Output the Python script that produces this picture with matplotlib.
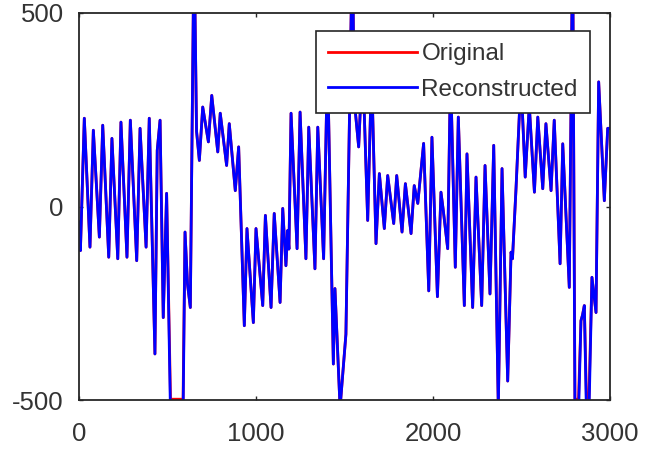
import matplotlib
matplotlib.use("Agg")
import matplotlib.pyplot as plt

# sample positions (x) and signal values
x_vals = [0, 8, 30, 62, 81, 115, 134, 168, 186, 219, 237, 271, 290, 326, 345, 379, 397,
          429, 442, 458, 476, 495, 517, 588, 599, 613, 629, 650, 664, 680, 699, 731, 750,
          784, 798, 834, 849, 883, 902, 934, 949, 985, 1000, 1038, 1053, 1085, 1103, 1136,
          1151, 1169, 1179, 1186, 1198, 1232, 1249, 1282, 1298, 1333, 1349, 1382, 1404,
          1437, 1446, 1475, 1508, 1545, 1554, 1580, 1602, 1631, 1653, 1678, 1697, 1725,
          1744, 1778, 1795, 1825, 1844, 1876, 1894, 1914, 1947, 1976, 1994, 2025, 2045,
          2058, 2083, 2099, 2126, 2143, 2177, 2192, 2224, 2243, 2275, 2294, 2322, 2343,
          2369, 2390, 2422, 2441, 2449, 2469, 2497, 2521, 2544, 2573, 2592, 2620, 2638,
          2667, 2685, 2718, 2733, 2770, 2789, 2802, 2822, 2836, 2845, 2855, 2867, 2881,
          2898, 2921, 2936, 2968, 2987, 3000]

original = [-40, -114, 228, -105, 197, -79, 210, -131, 176, -135, 218, -131, 223, -140, 202, -105, 228,
            -381, 145, 223, -287, 34, -498, -498, -66, -200, -261, 700, 195, 119, 257, 167, 287,
            141, 241, 106, 214, 41, 154, -308, -57, -300, -57, -256, -23, -261, -18, -248,
            -5, -153, -62, -110, 241, -109, 244, -135, 205, -161, 205, -135, 380,
            -407, -212, -520, -330, 700, 280, 154, 380, -36, 350, -96, 85, -57,
            80, -44, 80, -66, 59, -70, 54, 8, 163, -218, 179, -233, 37,
            -10, -109, 350, -157, 231, -256, 136, -261, 76, -256, 106, -226, 158,
            -520, 98, -451, -118, -135, 46, 330, 76, 260, 37, 231, 46, 214,
            41, 223, -148, 162, -209, 700, -498, -498, -295, -280, -256, -498, -498,
            -183, -274, 322, 15, 202, 202]

# where the reconstruction dips further below the visible range than the original
recon_deviation = {517: -540, 588: -540, 2802: -540, 2822: -540, 2867: -540, 2881: -540}
reconstructed = [recon_deviation.get(x, v) for x, v in zip(x_vals, original)]

x_ticks = [0, 1000, 2000, 3000]
y_ticks = [-500, 0, 500]

plt.rcParams['font.family'] = ['Liberation Sans', 'DejaVu Sans']
plt.rcParams['axes.unicode_minus'] = False

fig = plt.figure(figsize=(6.46, 4.49), dpi=100)
ax = fig.add_axes([79 / 646, 1 - 400 / 449, 531 / 646, 387 / 449])

ax.plot(x_vals, original, color=(1, 0, 0), lw=2.0, label='Original')
ax.plot(x_vals, reconstructed, color=(0, 0, 1), lw=2.0, label='Reconstructed')

ax.set_xlim(0, 3000)
ax.set_ylim(-500, 500)
ax.set_xticks(x_ticks)
ax.set_yticks(y_ticks)

dark = '#262626'
label_col = '#333333'
for s in ax.spines.values():
    s.set_color(dark)
    s.set_linewidth(1.3)
ax.tick_params(direction='in', length=3, width=1.0, colors=dark, labelcolor=label_col,
               labelsize=18.5, top=True, right=True)
ax.tick_params(axis='y', pad=11)
ax.tick_params(axis='x', pad=16)

leg = ax.legend(loc='upper right', bbox_to_anchor=(590 / 646, 1 - 31 / 449),
                bbox_transform=fig.transFigure, fontsize=17.5, fancybox=False,
                framealpha=1, edgecolor=dark, handlelength=3.65, handletextpad=0.18,
                borderpad=0.5, labelspacing=0.55, borderaxespad=0)
leg.get_frame().set_linewidth(1.2)
for t in leg.get_texts():
    t.set_color(label_col)

fig.savefig('out.png', dpi=100)
